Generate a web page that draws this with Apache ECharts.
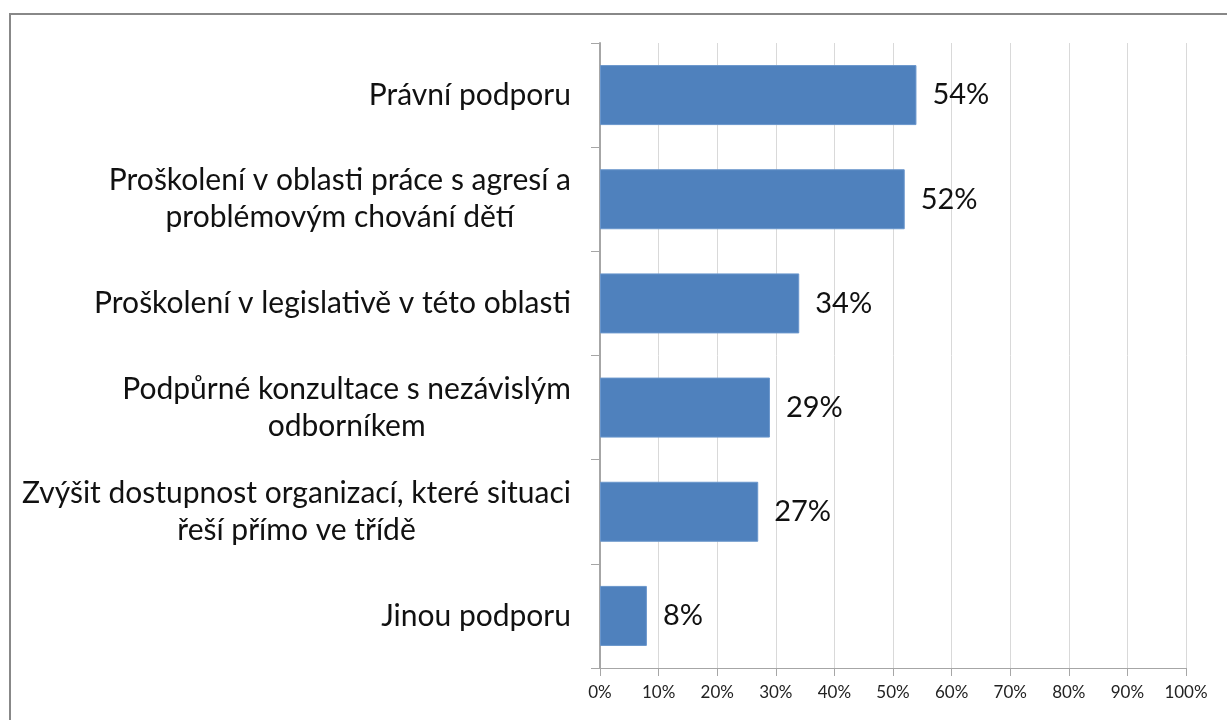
<!DOCTYPE html>
<html>
<head>
<meta charset="utf-8">
<script src="https://cdn.jsdelivr.net/npm/echarts@6/dist/echarts.min.js"></script>
<style>
html,body{margin:0;padding:0;background:#fff;}
#chart{width:1227px;height:720px;}
</style>
</head>
<body>
<div id="chart"></div>
<script>
// kategorie odshora dolu
var categories = [
	"Právní podporu",
	"Proškolení v oblasti práce s agresí a\nproblémovým chování dětí",
	"Proškolení v legislativě v této oblasti",
	"Podpůrné konzultace s nezávislým\nodborníkem",
	"Zvýšit dostupnost organizací, které situaci\nřeší přímo ve třídě",
	"Jinou podporu"
];
var values = [54, 52, 34, 29, 27, 8];
var tickLabels = ["0%","10%","20%","30%","40%","50%","60%","70%","80%","90%","100%"];

var font = "Lato";
var chart = echarts.init(document.getElementById("chart"));
var option = {
	animation: false,
	graphic: [{
		type: 'rect',
		shape: {x: 10, y: 14, width: 1260, height: 760},
		style: {fill: 'none', stroke: '#888888', lineWidth: 2}
	}],
	grid: {
		left: 600,
		right: 41,
		top: 43,
		bottom: 52
	},
	xAxis: {
		type: 'value',
		min: 0,
		max: 100,
		interval: 10,
		axisLine: {show: true, lineStyle: {color: '#a6a6a6'}},
		axisTick: {show: true, length: 8, lineStyle: {color: '#a6a6a6'}},
		splitLine: {show: true, lineStyle: {color: '#d9d9d9', width: 1}},
		axisLabel: {
			margin: 16,
			fontFamily: font,
			fontSize: 17,
			color: '#222',
			formatter: function(v){ return tickLabels[Math.round(v/10)]; }
		}
	},
	yAxis: {
		type: 'category',
		inverse: true,
		data: categories,
		axisLine: {show: true, lineStyle: {color: '#a6a6a6', width: 2}},
		axisTick: {show: true, length: 9, lineStyle: {color: '#a6a6a6'}},
		axisLabel: {
			margin: 29,
			fontFamily: font,
			fontSize: 30,
			color: '#111',
			lineHeight: 37,
			align: 'right',
			formatter: function(v){
				//kazdy radek zvlast, aby byl vycentrovany
				return v.split("\n").map(function(s){ return "{c|" + s + "}"; }).join("\n");
			},
			rich: {
				c: {align: 'center', fontFamily: font, fontSize: 30, color: '#111', lineHeight: 37}
			}
		}
	},
	series: [{
		type: 'bar',
		data: values,
		barWidth: 60,
		itemStyle: {color: '#4f81bd', borderColor: '#6a96cc', borderWidth: 1},
		label: {
			show: true,
			position: 'right',
			distance: 16,
			fontFamily: font,
			fontSize: 29,
			color: '#111',
			formatter: '{c}%'
		}
	}]
};
chart.setOption(option);
</script>
</body>
</html>
